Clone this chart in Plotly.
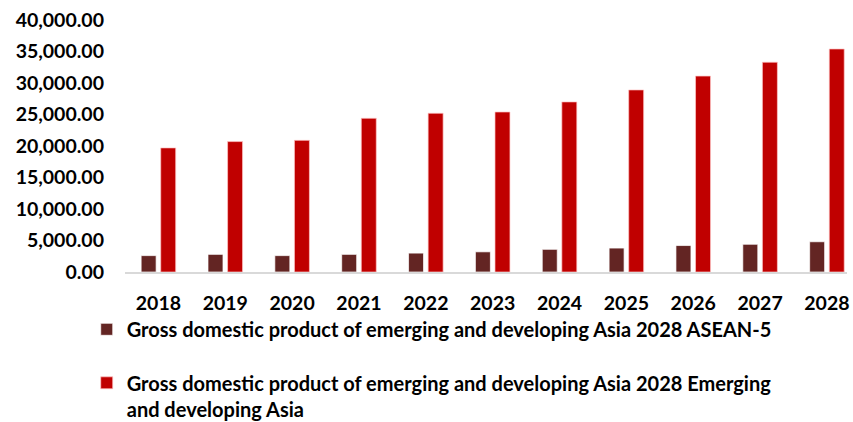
import plotly.graph_objects as go

years = ["2018", "2019", "2020", "2021", "2022", "2023", "2024", "2025", "2026", "2027", "2028"]
asean5 = [2600, 2800, 2600, 2800, 3000, 3200, 3600, 3800, 4200, 4400, 4800]
emerging_asia = [19700, 20700, 20900, 24400, 25200, 25400, 27000, 28900, 31100, 33300, 35400]

name_asean = "Gross domestic product of emerging and developing Asia 2028 ASEAN-5"
name_asia = "Gross domestic product of emerging and developing Asia 2028 Emerging<br>and developing Asia"

FONT = "Lato"

fig = go.Figure()
fig.add_trace(go.Bar(
    x=years, y=asean5, name=name_asean, legendgroup="a",
    marker=dict(color="#632523", line=dict(color="rgba(255,255,255,0.7)", width=1)),
))
fig.add_trace(go.Bar(
    x=years, y=emerging_asia, name=name_asia, legendgroup="b",
    marker=dict(color="#C00000", line=dict(color="rgba(255,200,200,0.7)", width=1)),
))

fig.update_layout(
    width=853, height=422,
    margin=dict(l=124.5, r=6, t=20, b=150, autoexpand=False),
    paper_bgcolor="white", plot_bgcolor="white",
    barmode="group", bargap=0.414, bargroupgap=0.235,
    font=dict(family=FONT, color="#000000"),
    legend=dict(
        orientation="v", x=-0.053, xanchor="left", y=-0.15, yanchor="top",
        font=dict(family=FONT, size=20, weight="bold", color="#000000"),
        tracegroupgap=24.5, itemwidth=30, bgcolor="rgba(0,0,0,0)",
        valign="top",
    ),
    showlegend=True,
)
fig.update_xaxes(
    type="category", range=[-0.5, 10.3],
    showline=True, linecolor="#d9d9d9", linewidth=2,
    showgrid=False, ticks="", ticklabelstandoff=13,
    tickfont=dict(family=FONT, size=19.5, weight="bold", color="#000000"),
)
fig.update_yaxes(
    range=[0, 40000], dtick=5000, tickformat=",.2f",
    showline=False, showgrid=False, zeroline=False, ticks="",
    ticklabelstandoff=20,
    tickfont=dict(family=FONT, size=19.5, weight="bold", color="#000000"),
)

fig.write_html("out.html")
